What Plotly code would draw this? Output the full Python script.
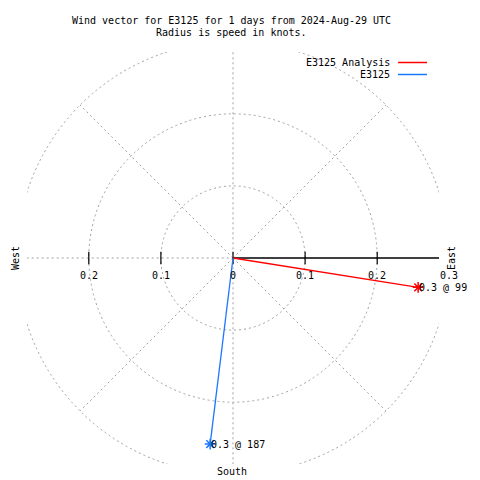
import numpy as np
import plotly.graph_objects as go

# ---- data ----
series_names = ["E3125 Analysis", "E3125"]
series_colors = ["#ff0000", "#1a78ff"]
speeds_kt = [0.26, 0.26]          # knots
directions_deg = [99, 187]        # compass degrees (toward)
ring_values = [0.1, 0.2, 0.3]
spoke_angles = [45, 135, 225, 315]
tick_values = [-0.2, -0.1, 0.0, 0.1, 0.2, 0.3]
tick_labels = ["0.2", "0.1", "0", "0.1", "0.2", "0.3"]
title_lines = ["Wind vector for E3125 for 1 days from 2024-Aug-29 UTC",
               "Radius is speed in knots."]

RMAX = 0.3
R = RMAX / 1.05
FONT = "DejaVu Sans Mono"
GRID = "#a0a0a0"
OFF = 8  # page body margin
L, T, W, H = 27 - OFF, 52 - OFF, 412, 412

def px(p):  # reference pixel x -> paper
    return (p - OFF - L) / W

def py(p):  # reference pixel y -> paper
    return (T + H - (p - OFF)) / H

def dx(v):  # data x -> paper
    return (v + R) / (2 * R)

def dy(v):
    return (v + R) / (2 * R)

fig = go.Figure()

# grid rings
shapes = []
for r in ring_values:
    shapes.append(dict(type="circle", xref="x", yref="y", x0=-r, y0=-r, x1=r, y1=r,
                       line=dict(color=GRID, width=1, dash="2px,3px"), layer="below"))
fig.update_layout(shapes=shapes)

# spokes
for a in spoke_angles:
    t = np.deg2rad(a)
    fig.add_trace(go.Scatter(x=[0, RMAX * np.sin(t)], y=[0, RMAX * np.cos(t)], mode="lines",
                             line=dict(color=GRID, width=1, dash="2px,3px"),
                             hoverinfo="skip", showlegend=False))
# vertical and west dashed axis
fig.add_trace(go.Scatter(x=[0, 0], y=[-RMAX, RMAX], mode="lines",
                         line=dict(color=GRID, width=1, dash="2px,3px"),
                         hoverinfo="skip", showlegend=False))
fig.add_trace(go.Scatter(x=[-RMAX, 0], y=[0, 0], mode="lines",
                         line=dict(color=GRID, width=1, dash="2px,3px"),
                         hoverinfo="skip", showlegend=False))
# east solid axis
fig.add_trace(go.Scatter(x=[0, RMAX], y=[0, 0], mode="lines",
                         line=dict(color="black", width=1.3),
                         hoverinfo="skip", showlegend=False))
# tick marks
tv = [v for v in tick_values if abs(v) < R]
fig.add_trace(go.Scatter(x=tv, y=[0] * len(tv), mode="markers",
                         marker=dict(symbol="line-ns", size=9, line=dict(color="black", width=1.2)),
                         hoverinfo="skip", showlegend=False))

annotations = []
for v, lab in zip(tick_values, tick_labels):
    annotations.append(dict(x=dx(v), y=dy(0), xref="paper", yref="paper", text=lab,
                            showarrow=False, xanchor="center", yanchor="middle",
                            yshift=-17, font=dict(family=FONT, size=10, color="black")))

# vectors
for name, col, s, d in zip(series_names, series_colors, speeds_kt, directions_deg):
    t = np.deg2rad(d)
    ex, ey = s * np.sin(t), s * np.cos(t)
    fig.add_trace(go.Scatter(x=[0, ex], y=[0, ey], mode="lines",
                             line=dict(color=col, width=1.3), name=name,
                             hoverinfo="skip", showlegend=False, cliponaxis=False))
    fig.add_trace(go.Scatter(x=[ex], y=[ey], mode="markers",
                             marker=dict(symbol="asterisk-open", size=9, color=col,
                                         line=dict(color=col, width=1.5)),
                             hoverinfo="skip", showlegend=False, cliponaxis=False))
    annotations.append(dict(x=dx(ex), y=dy(ey), xref="paper", yref="paper",
                            text=f"{s:.1f} @ {d}",
                            showarrow=False, xanchor="left", yanchor="middle", xshift=-1,
                            font=dict(family=FONT, size=10, color="black")))

# direction labels
annotations.append(dict(x=px(15), y=py(258), xref="paper", yref="paper", text="West",
                        textangle=-90, showarrow=False, xanchor="center", yanchor="middle",
                        font=dict(family=FONT, size=10)))
annotations.append(dict(x=px(451), y=py(258), xref="paper", yref="paper", text="East",
                        textangle=-90, showarrow=False, xanchor="center", yanchor="middle",
                        font=dict(family=FONT, size=10)))
annotations.append(dict(x=px(232), y=py(471), xref="paper", yref="paper", text="South",
                        showarrow=False, xanchor="center", yanchor="middle",
                        font=dict(family=FONT, size=10)))

# title
for i, line in enumerate(title_lines):
    annotations.append(dict(x=px(231.5), y=py(20 + 13 * i), xref="paper", yref="paper",
                            text=line, showarrow=False, xanchor="center", yanchor="middle",
                            font=dict(family=FONT, size=10)))

# legend (text then swatch)
for i, (name, col) in enumerate(zip(series_names, series_colors)):
    yy = 63 + 12 * i
    annotations.append(dict(x=px(392), y=py(yy), xref="paper", yref="paper", text=name,
                            xanchor="right", yanchor="middle", showarrow=False,
                            font=dict(family=FONT, size=10, color="black")))
    fig.add_shape(type="line", xref="paper", yref="paper", x0=px(398), x1=px(427),
                  y0=py(yy - 0.5), y1=py(yy - 0.5), line=dict(color=col, width=1.5))

fig.update_layout(
    width=480, height=480,
    margin=dict(l=L, r=480 - L - W, t=T, b=480 - T - H, pad=0),
    paper_bgcolor="white", plot_bgcolor="white",
    xaxis=dict(range=[-R, R], visible=False, fixedrange=True),
    yaxis=dict(range=[-R, R], visible=False, fixedrange=True),
    annotations=annotations,
    showlegend=False,
    font=dict(family=FONT, size=10, color="black"),
)

fig.write_html("out.html")
